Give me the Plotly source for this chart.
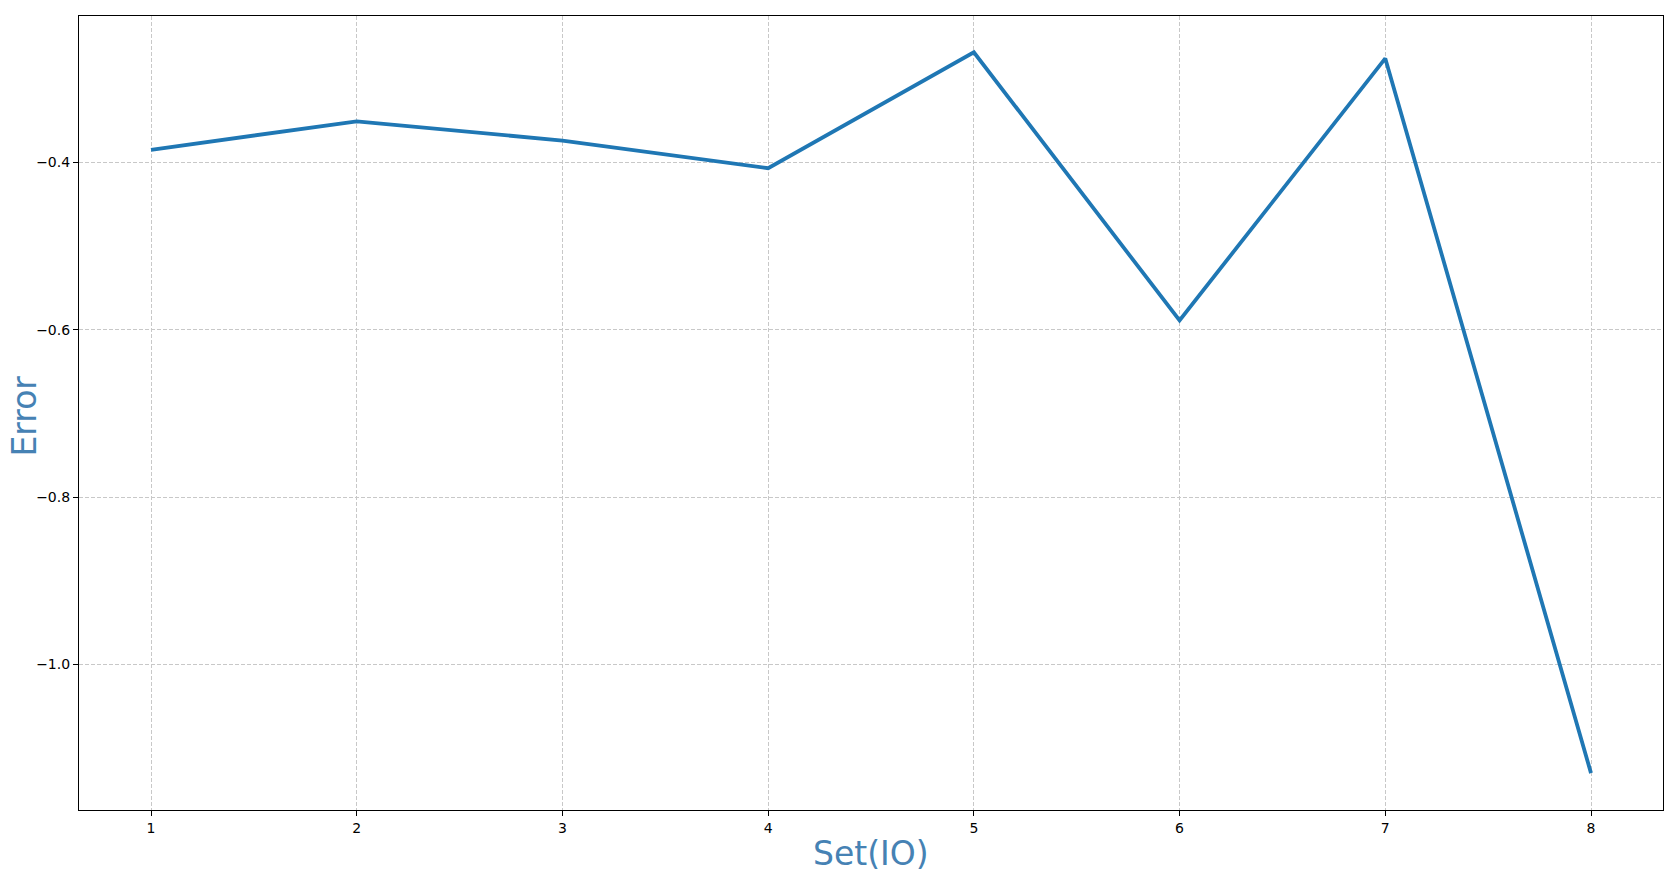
import plotly.graph_objects as go

sets = [1, 2, 3, 4, 5, 6, 7, 8]
errors = [-0.385, -0.351, -0.374, -0.407, -0.2685, -0.589, -0.2758, -1.130]
y_ticks = [-0.4, -0.6, -0.8, -1.0]
y_tick_labels = ["\u22120.4", "\u22120.6", "\u22120.8", "\u22121.0"]
x_ticks = sets
x_tick_labels = [str(s) for s in sets]

fig = go.Figure()
fig.add_trace(go.Scatter(x=sets, y=errors, mode="lines",
                         line=dict(color="#1f77b4", width=3.8)))

grid = dict(showgrid=True, gridcolor="#c8c8c8", gridwidth=1, griddash="4px,2px",
            showline=True, linecolor="black", linewidth=1.1, mirror=True,
            ticks="outside", ticklen=5, tickwidth=1.1, tickcolor="black",
            zeroline=False, tickfont=dict(family="DejaVu Sans", size=14, color="black"))

fig.update_layout(
    width=1678, height=880,
    margin=dict(l=79, r=15, t=16, b=70),
    paper_bgcolor="white", plot_bgcolor="white",
    showlegend=False,
    xaxis=dict(range=[0.65, 8.35], tickvals=x_ticks, ticktext=x_tick_labels, **grid),
    yaxis=dict(range=[-1.1741, -0.2251], tickvals=y_ticks, ticktext=y_tick_labels, **grid),
    annotations=[
        dict(text="Set(IO)", xref="paper", yref="paper", x=0.5, y=0, xanchor="center",
             yanchor="middle", yshift=-43, showarrow=False,
             font=dict(family="DejaVu Sans", size=33, color="#4682B4")),
        dict(text="Error", xref="paper", yref="paper", x=0, y=0.5, xanchor="left",
             yanchor="middle", xshift=-77, yshift=-3, textangle=-90, showarrow=False,
             font=dict(family="DejaVu Sans", size=33, color="#4682B4")),
    ],
)

fig.write_html("out.html", config={"displayModeBar": False},
               post_script="document.body.style.margin='0px';document.body.style.overflow='hidden';")
